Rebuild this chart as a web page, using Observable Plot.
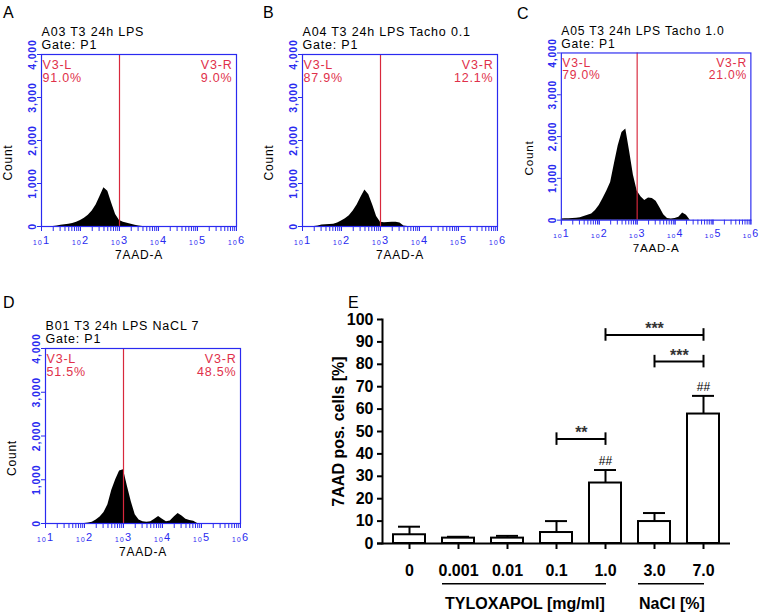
<!DOCTYPE html>
<html><head><meta charset="utf-8">
<script src="https://cdn.jsdelivr.net/npm/d3@7"></script>
<script src="https://cdn.jsdelivr.net/npm/@observablehq/plot@0.6"></script>
<style>
body{margin:0;background:#fff;}
#fig{position:relative;width:764px;height:615px;overflow:hidden;background:#fff;font-family:"Liberation Sans",Arial,sans-serif;}
.panel{position:absolute;}
.letter{position:absolute;font-size:16px;line-height:16px;color:#000;font-family:"Liberation Sans",Arial,sans-serif;}
</style></head><body><div id="fig"></div>
<script>
// ---------- Histogram data (A–D): log10 of 7AAD-A intensity and event counts ----------
const logExponents = [1.0,1.1,1.2,1.3,1.4,1.5,1.6,1.7,1.8,1.9,2.0,2.1,2.2,2.3,2.4,2.5,2.6,2.7,2.8,2.9,3.0,3.1,3.2,3.3,3.4,3.5,3.6,3.7,3.8,3.9,4.0,4.1,4.2,4.3,4.4,4.5,4.6,4.7,4.8,4.9,5.0,5.1,5.2,5.3,5.4,5.5,5.6,5.7,5.8,5.9,6.0];
const countsA = [0,0,0,0,10,30,40,55,70,100, 140,190,260,360,500,700,900,820,540,280, 140,100,75,55,30,12,0,0,0,0, 0,0,0,0,0,0,0,0,0,0, 0,0,0,0,0,0,0,0,0,0, 0];
const countsB = [0,0,0,0,10,35,40,45,55,80, 130,180,250,360,500,680,850,740,500,230, 100,90,95,100,100,80,10,0,0,0, 0,0,0,0,0,0,0,0,0,0, 0,0,0,0,0,0,0,0,0,0, 0];
const countsC = [30,35,35,40,45,60,90,120,150,230, 350,520,700,900,1350,1780,2100,2180,1650,1080, 700,560,470,530,520,450,300,130,40,30, 40,70,170,120,0,0,0,0,0,0, 0,0,0,0,0,0,0,0,0,0, 0];
const countsD = [0,0,0,0,0,0,0,0,0,0, 0,10,30,80,150,250,430,760,1000,1200, 1230,850,500,200,80,40,30,40,100,160, 100,40,60,150,230,170,100,70,50,0, 0,0,0,0,0,0,0,0,0,0, 0];
const histTitles = ["A03 T3 24h LPS", "A04 T3 24h LPS Tacho 0.1", "A05 T3 24h LPS Tacho 1.0", "B01 T3 24h LPS NaCL 7"];
const gateLeft = ["91.0%", "87.9%", "79.0%", "51.5%"];
const gateRight = ["9.0%", "12.1%", "21.0%", "48.5%"];
const countTicks = [0, 1000, 2000, 3000, 4000];
const decadeTicks = [1e1, 1e2, 1e3, 1e4, 1e5, 1e6];

// ---------- Bar chart data (E) ----------
const doses = ["0", "0.001", "0.01", "0.1", "1.0", "3.0", "7.0"];
const means = [3.9, 2.4, 2.4, 4.9, 27, 9.8, 57.8];
const sds = [3.6, 0.6, 1.0, 5.1, 5.8, 3.8, 8.1];
const yTicksE = [0, 10, 20, 30, 40, 50, 60, 70, 80, 90, 100];
const hashDoses = ["1.0", "7.0"];
const bracketFrom = ["0.1", "1.0", "3.0"];
const bracketTo = ["1.0", "7.0", "7.0"];
const bracketLevel = [46.6, 93.1, 81.2];
const bracketLabel = ["**", "***", "***"];
const groupNames = ["TYLOXAPOL [mg/ml]", "NaCl [%]"];
const groupFirst = ["0.001", "3.0"];
const groupLast = ["1.0", "7.0"];

const fig = document.getElementById("fig");
const BLUE = "#2a2af0";
const RED = "#e0304a";
const FONT = "'Liberation Sans', Arial, 'DejaVu Sans', sans-serif";

function place(node, left, top) {
  const d = document.createElement("div");
  d.className = "panel";
  d.style.left = left + "px";
  d.style.top = top + "px";
  d.appendChild(node);
  fig.appendChild(d);
}
function letter(t, left, top) {
  const d = document.createElement("div");
  d.className = "letter";
  d.textContent = t;
  d.style.left = left + "px";
  d.style.top = top + "px";
  fig.appendChild(d);
}

function histogram(counts, k, marginBottom) {
  const data = logExponents.map((e, i) => ({x: Math.pow(10, e), count: counts[i]}));
  return Plot.plot({
    width: 250, height: 266,
    marginLeft: 41, marginRight: 14, marginTop: 54, marginBottom,
    style: {fontFamily: FONT, background: "transparent", overflow: "visible"},
    x: {type: "log", domain: [10, 1e6]},
    y: {domain: [0, 4000]},
    marks: [
      Plot.areaY(data, {x: "x", y: "count", fill: "black", curve: "linear"}),
      Plot.ruleX([1000], {stroke: "#d8283c", strokeWidth: 1.2}),
      Plot.frame({stroke: BLUE, strokeWidth: 1.2}),
      Plot.axisY({ticks: countTicks, tickFormat: d3.format(","), tickRotate: -90, tickSize: 4, tickPadding: 2, color: BLUE, fontSize: 10.5, fontWeight: "bold", label: null}),
      Plot.axisX({ticks: d3.scaleLog().domain([10, 1e6]).ticks(), tickFormat: () => "", tickSize: 5, color: BLUE, label: null}),
      Plot.axisX({ticks: decadeTicks, tickFormat: d => "\u2081\u2080" + Math.round(Math.log10(d)), tickSize: 5, tickPadding: 5, color: BLUE, fontSize: 11, label: null}),
      Plot.text([histTitles[k]], {frameAnchor: "top-left", textAnchor: "start", lineAnchor: "middle", dy: -23, fill: "black", fontSize: 12.5, style: "letter-spacing:1px"}),
      Plot.text(["Gate: P1"], {frameAnchor: "top-left", textAnchor: "start", lineAnchor: "middle", dy: -9.5, fill: "black", fontSize: 12.5}),
      Plot.text(["V3-L"], {frameAnchor: "top-left", textAnchor: "start", lineAnchor: "middle", dx: 1, dy: 10, fill: RED, fontSize: 12.5}),
      Plot.text([gateLeft[k]], {frameAnchor: "top-left", textAnchor: "start", lineAnchor: "middle", dx: 1, dy: 23, fill: RED, fontSize: 12.5}),
      Plot.text(["V3-R"], {frameAnchor: "top-right", textAnchor: "end", lineAnchor: "middle", dx: -4, dy: 10, fill: RED, fontSize: 12.5}),
      Plot.text([gateRight[k]], {frameAnchor: "top-right", textAnchor: "end", lineAnchor: "middle", dx: -4, dy: 23, fill: RED, fontSize: 12.5}),
      Plot.text(["Count"], {frameAnchor: "left", textAnchor: "middle", lineAnchor: "middle", rotate: -90, dx: -33, dy: 22, fill: "black", fontSize: 12}),
      Plot.text(["7AAD-A"], {frameAnchor: "bottom", lineAnchor: "middle", dy: 29, fill: "black", fontSize: 12})
    ]
  });
}

place(histogram(countsA, 0, 40), 0, 0);
place(histogram(countsB, 1, 40), 261, 0);
place(histogram(countsC, 2, 40), 521, 0);
place(histogram(countsD, 3, 37), 4, 294);
fig.querySelectorAll("svg text").forEach(t => { t.style.letterSpacing = "0.8px"; });

// ---------- Panel E ----------
const widthE = 434, mlE = 52, mrE = 34;
const stepE = (widthE - mlE - mrE) / doses.length;
const barData = doses.map((d, i) => ({dose: d, mean: means[i], sd: sds[i], top: means[i] + sds[i]}));
const hashData = barData.filter(d => hashDoses.includes(d.dose));
const bracketData = bracketFrom.map((f, i) => {
  const mid = (doses.indexOf(f) + doses.indexOf(bracketTo[i])) / 2;
  return {from: f, to: bracketTo[i], level: bracketLevel[i], label: bracketLabel[i], anchor: doses[Math.floor(mid)], frac: mid - Math.floor(mid)};
});
const groupData = groupNames.map((g, i) => {
  const mid = (doses.indexOf(groupFirst[i]) + doses.indexOf(groupLast[i])) / 2 - 0.15;
  return {name: g, first: groupFirst[i], last: groupLast[i], anchor: doses[Math.floor(mid)], frac: mid - Math.floor(mid)};
});

const E = Plot.plot({
  width: widthE, height: 315,
  marginLeft: mlE, marginRight: mrE, marginTop: 19, marginBottom: 72,
  style: {fontFamily: FONT, fontWeight: "bold", fontSize: "16px", color: "black", background: "transparent", overflow: "visible"},
  x: {domain: doses, paddingInner: 0.34, paddingOuter: 0.17},
  y: {domain: [0, 100]},
  marks: [
    Plot.ruleX(barData, {x: "dose", y1: "mean", y2: "top", strokeWidth: 2}),
    Plot.tickY(barData, {x: "dose", y: "top", strokeWidth: 2, insetLeft: 5, insetRight: 5}),
    Plot.barY(barData, {x: "dose", y: "mean", fill: "white", stroke: "black", strokeWidth: 2}),
    Plot.ruleY([0], {strokeWidth: 2, insetLeft: -5}),
    Plot.frame({anchor: "left", strokeWidth: 2}),
    Plot.axisY({ticks: yTicksE, tickSize: 5, tickPadding: 4, strokeWidth: 2, label: null, fontSize: 16, fontWeight: "bold"}),
    Plot.axisX({tickSize: 6, tickPadding: 15, strokeWidth: 2, label: null, fontSize: 16, fontWeight: "bold"}),
    Plot.text(["7AAD pos. cells [%]"], {frameAnchor: "left", textAnchor: "middle", lineAnchor: "middle", rotate: -90, dx: -44, fontSize: 16, fontWeight: "bold"}),
    Plot.text(hashData, {x: "dose", y: "top", text: () => "##", dy: -9, lineAnchor: "middle", fontSize: 12, fontWeight: "normal"}),
    Plot.link(bracketData, {x1: "from", x2: "to", y1: "level", y2: "level", strokeWidth: 2}),
    Plot.ruleX(bracketData, {x: "from", y1: d => d.level - 2.8, y2: d => d.level + 2.8, strokeWidth: 2}),
    Plot.ruleX(bracketData, {x: "to", y1: d => d.level - 2.8, y2: d => d.level + 2.8, strokeWidth: 2}),
    ...bracketData.map(b => Plot.text([b], {x: "anchor", y: "level", text: "label", dx: b.frac * stepE, dy: -1, lineAnchor: "bottom", fontSize: 16, fontWeight: "bold", fill: "#333"})),
    Plot.ruleY(groupData, {x1: "first", x2: "last", y: () => -18, insetRight: 15, strokeWidth: 1.5}),
    ...groupData.map(g => Plot.text([g], {x: "anchor", text: "name", frameAnchor: "bottom", dx: g.frac * stepE, dy: 60, lineAnchor: "middle", fontSize: 16, fontWeight: "bold"}))
  ]
});
place(E, 330, 300);

letter("A", 3, 5);
letter("B", 263, 5);
letter("C", 517, 6);
letter("D", 3, 295);
letter("E", 348, 295);
</script>
</body></html>
